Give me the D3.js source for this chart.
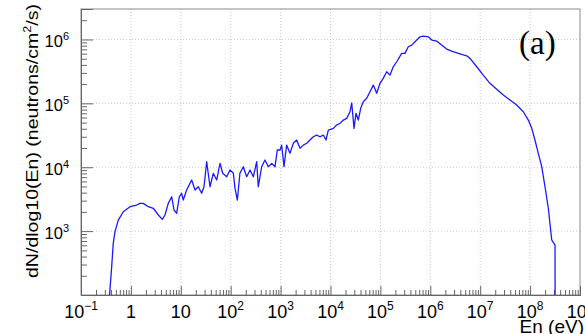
<!DOCTYPE html>
<html>
<head>
<meta charset="utf-8">
<script src="https://cdn.jsdelivr.net/npm/d3@7"></script>
<style>
  body { margin: 0; background: #fff; }
  svg { display: block; }
  text { font-family: "Liberation Sans", Arial, Helvetica, sans-serif; fill: #000; }
</style>
</head>
<body>
<svg id="chart"></svg>
<script>
// neutron energy (eV) and flux
const energyEV = [0.37, 0.412, 0.443, 0.48, 0.559, 0.705, 0.96, 1.31, 1.52, 1.77,
  2.23, 2.81, 3.54, 4.26, 4.82, 5.61, 6.57, 7.31, 8.27, 9.33,
  10.4, 11.2, 13.1, 15.3, 16.5, 19.3, 22.4, 26.2, 29.2, 33.0,
  38.5, 44.8, 52.4, 61.1, 69.2, 83.2, 96.9, 113, 122, 136,
  153, 179, 209, 244, 284, 332, 357, 418, 486, 567,
  664, 773, 859, 973, 1050, 1170, 1320, 1540, 1800, 2100,
  2450, 2850, 3340, 3880, 4520, 5280, 6170, 7180, 8130, 9040,
  11400, 13300, 15500, 18100, 21100, 24600, 26600, 29600, 32400, 36100,
  40300, 45400, 53100, 61900, 72100, 84300, 98200, 114000, 134000, 156000,
  181000, 212000, 267000, 311000, 362000, 424000, 493000, 622000, 725000, 912000,
  1.07e6, 1.34e6, 1.69e6, 2.13e6, 2.68e6, 3.38e6, 4.26e6, 5.36e6, 6.25e6, 8.52e6,
  1.15e7, 1.57e7, 2.14e7, 2.9e7, 3.95e7, 5.38e7, 7.31e7, 9.21e7, 1.08e8, 1.25e8,
  1.46e8, 1.71e8, 1.99e8, 2.32e8, 2.71e8, 3.16e8, 3.17e8];

const flux = [90, 277, 644, 980, 1490, 2010, 2410, 2560, 2720, 2720,
  2410, 2280, 1790, 1530, 1790, 2720, 3450, 2140, 1900, 3450,
  3910, 3070, 4400, 5600, 6310, 4400, 4950, 3910, 4950, 12200,
  4950, 8040, 6310, 11500, 8040, 7100, 9040, 8040, 4680, 3070,
  8040, 10200, 7100, 9040, 7100, 12200, 4950, 10200, 13000, 10200,
  11500, 10200, 18600, 18600, 22200, 10200, 22200, 16500, 23700, 26700,
  19800, 22200, 23700, 26700, 30000, 31900, 30000, 31900, 26700, 38200,
  40600, 45800, 48600, 54800, 58200, 73900, 102000, 40600, 69800, 54800,
  83600, 106000, 120000, 152000, 193000, 144000, 206000, 246000, 312000, 277000,
  374000, 448000, 606000, 606000, 769000, 817000, 921000, 1100000, 1130000, 1100000,
  979000, 945000, 817000, 708000, 658000, 619000, 584000, 555000, 506000, 374000,
  277000, 206000, 166000, 135000, 113000, 94000, 73900, 54800, 40600, 26700,
  16500, 10200, 4950, 2280, 727, 605, 50];

// axis decades
const xDecades = [-1, 0, 1, 2, 3, 4, 5, 6, 7, 8, 9];
const yLabelDecades = [3, 4, 5, 6];
const xTitle = "En (eV)";
const panelLabel = "(a)";

const width = 585;
const height = 334;
const margin = { top: 9, right: 5, bottom: 39, left: 81 };

const svg = d3.select("#chart").attr("width", width).attr("height", height);

const x = d3.scaleLog()
  .domain([0.1, 1e9])
  .range([margin.left, width - margin.right]);

const y = d3.scaleLog()
  .domain([100, 3e6])
  .range([height - margin.bottom, margin.top]);

const x0 = margin.left, x1 = width - margin.right;
const y0 = height - margin.bottom, y1 = margin.top;

// minor tick positions (2..9 in each decade)
const xMinor = [];
xDecades.slice(0, -1).forEach(d => {
  for (let k = 2; k <= 9; k++) xMinor.push(k * Math.pow(10, d));
});
const yMinor = [];
for (let d = 2; d <= 6; d++) {
  for (let k = 2; k <= 9; k++) {
    const v = k * Math.pow(10, d);
    if (v < 3e6) yMinor.push(v);
  }
}
const yMajor = [100, 1e3, 1e4, 1e5, 1e6];

// grid
const grid = svg.append("g").attr("stroke", "#c8c8c8").attr("stroke-dasharray", "1,2").attr("stroke-width", 1);
grid.selectAll(".gx").data(xDecades.slice(1, -1)).enter().append("line")
  .attr("x1", d => x(Math.pow(10, d))).attr("x2", d => x(Math.pow(10, d)))
  .attr("y1", y0).attr("y2", y1);
grid.selectAll(".gy").data(yLabelDecades).enter().append("line")
  .attr("x1", x0).attr("x2", x1)
  .attr("y1", d => y(Math.pow(10, d))).attr("y2", d => y(Math.pow(10, d)));

// frame
svg.append("rect")
  .attr("x", x0).attr("y", y1)
  .attr("width", x1 - x0).attr("height", y0 - y1)
  .attr("fill", "none").attr("stroke", "#8a8a8a").attr("stroke-width", 1);

// x axis ticks (inward)
const xAxisMajor = d3.axisBottom(x).tickValues(xDecades.map(d => Math.pow(10, d))).tickSize(-9).tickFormat("");
const xAxisMinor = d3.axisBottom(x).tickValues(xMinor).tickSize(-5).tickFormat("");
[xAxisMajor, xAxisMinor].forEach(ax => {
  const g = svg.append("g").attr("transform", `translate(0,${y0})`).call(ax);
  g.select(".domain").attr("stroke", "#666");
  g.selectAll(".tick line").attr("stroke", "#666");
});

// y axis ticks (inward)
const yAxisMajor = d3.axisLeft(y).tickValues(yMajor).tickSize(-12).tickFormat("");
const yAxisMinor = d3.axisLeft(y).tickValues(yMinor).tickSize(-6).tickFormat("");
[yAxisMajor, yAxisMinor].forEach(ax => {
  const g = svg.append("g").attr("transform", `translate(${x0},0)`).call(ax);
  g.select(".domain").attr("stroke", "#666");
  g.selectAll(".tick line").attr("stroke", "#666");
});

// x tick labels
const xl = svg.append("g").selectAll("text").data(xDecades).enter().append("text")
  .attr("x", d => x(Math.pow(10, d)))
  .attr("y", 318)
  .attr("text-anchor", "middle")
  .style("font-size", "18px");
xl.each(function (d) {
  const t = d3.select(this);
  if (d === 0) { t.text("1"); return; }
  if (d === 1) { t.text("10"); return; }
  t.append("tspan").text("10");
  t.append("tspan").attr("dy", -8).style("font-size", "12px").text(d < 0 ? "\u2212" + (-d) : d);
});

// y tick labels
const yl = svg.append("g").selectAll("text").data(yLabelDecades).enter().append("text")
  .attr("x", 69)
  .attr("y", d => y(Math.pow(10, d)) + 8)
  .attr("text-anchor", "end")
  .style("font-size", "16.5px");
yl.append("tspan").text("10");
yl.append("tspan").attr("dy", -7).style("font-size", "11px").text(d => d);

// axis titles
svg.append("text")
  .attr("x", 584).attr("y", 333)
  .attr("text-anchor", "end")
  .style("font-size", "19px")
  .text(xTitle);

const yt = svg.append("text")
  .attr("transform", "translate(38,141) rotate(-90) scale(1.15,1)")
  .attr("text-anchor", "middle")
  .style("font-size", "17px");
yt.append("tspan").text("dN/dlog10(En) (neutrons/cm");
yt.append("tspan").attr("dy", -7).style("font-size", "11px").text("2");
yt.append("tspan").attr("dy", 7).text("/s)");

// curve
svg.append("clipPath").attr("id", "clip").append("rect")
  .attr("x", x0).attr("y", y1).attr("width", x1 - x0).attr("height", y0 - y1);

const points = energyEV.map((e, i) => [e, flux[i]]);
const line = d3.line().x(d => x(d[0])).y(d => y(d[1]));

svg.append("path")
  .datum(points)
  .attr("clip-path", "url(#clip)")
  .attr("d", line)
  .attr("fill", "none")
  .attr("stroke", "#1a1aff")
  .attr("stroke-width", 1.3)
  .attr("stroke-linejoin", "round");

// panel label
svg.append("text")
  .attr("x", 519).attr("y", 54)
  .style("font-family", "'Liberation Serif', 'Times New Roman', serif")
  .style("font-size", "33px")
  .text(panelLabel);
</script>
</body>
</html>
